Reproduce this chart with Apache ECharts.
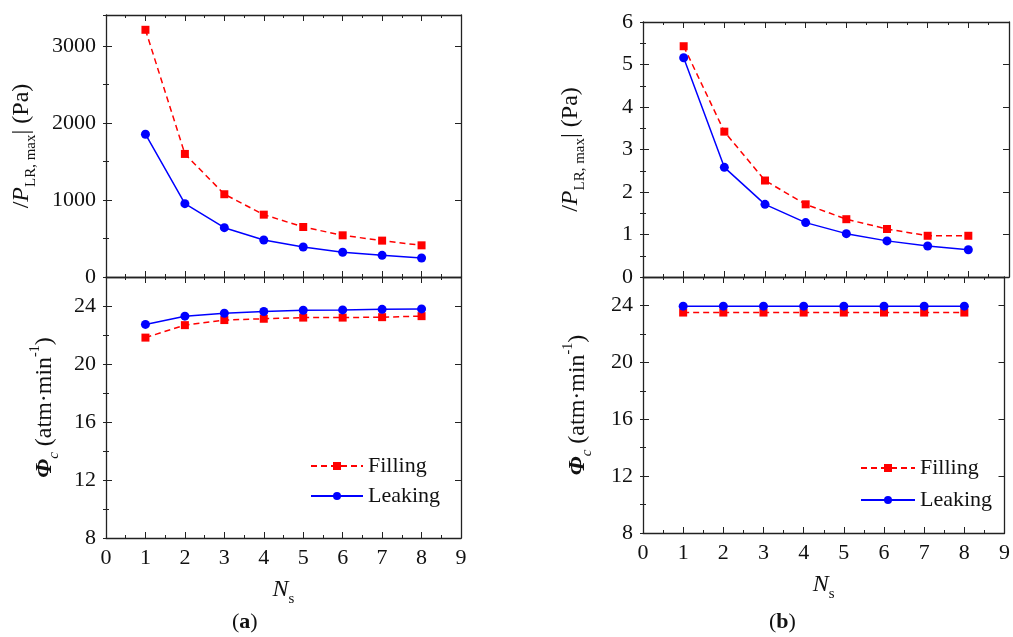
<!DOCTYPE html>
<html>
<head>
<meta charset="utf-8">
<script src="https://cdn.jsdelivr.net/npm/echarts@6/dist/echarts.min.js"></script>
<style>
  html, body { margin: 0; padding: 0; background: #fff; }
  #chart { width: 1013px; height: 637px; }
</style>
</head>
<body>
<div id="chart"></div>
<script>
// N_s values (shared by every panel)
var ns = [1, 2, 3, 4, 5, 6, 7, 8];

// (a) |P_LR,max| in Pa
var pFillA = [3208, 1597, 1074, 809, 649, 541, 472, 411];
var pLeakA = [1853, 952, 640, 480, 390, 321, 281, 247];
// (a) Phi_c in atm/min
var phiFillA = [21.82, 22.68, 23.03, 23.12, 23.2, 23.2, 23.23, 23.3];
var phiLeakA = [22.73, 23.3, 23.5, 23.62, 23.71, 23.73, 23.77, 23.8];

// (b) |P_LR,max| in Pa
var pFillB = [5.43, 3.42, 2.27, 1.71, 1.36, 1.13, 0.97, 0.97];
var pLeakB = [5.16, 2.58, 1.71, 1.28, 1.02, 0.85, 0.73, 0.64];
// (b) Phi_c in atm/min
var phiFillB = [23.5, 23.5, 23.5, 23.5, 23.5, 23.5, 23.5, 23.5];
var phiLeakB = [23.95, 23.95, 23.95, 23.95, 23.95, 23.95, 23.95, 23.95];

var legendNames = ['Filling', 'Leaking'];

var SERIF = '"Liberation Serif", "DejaVu Serif", serif';
var AX = '#222';

var nameRich = {
  n: { fontFamily: SERIF, fontSize: 24, color: '#111', lineHeight: 34, verticalAlign: 'middle' },
  i: { fontFamily: SERIF, fontSize: 24, fontStyle: 'italic', color: '#111', lineHeight: 34, verticalAlign: 'middle' },
  ib: { fontFamily: SERIF, fontSize: 24, fontStyle: 'italic', fontWeight: 'bold', color: '#111', lineHeight: 34, verticalAlign: 'middle' },
  s: { fontFamily: SERIF, fontSize: 15, color: '#111', verticalAlign: 'bottom' },
  si: { fontFamily: SERIF, fontSize: 15, fontStyle: 'italic', color: '#111', verticalAlign: 'bottom' },
  u: { fontFamily: SERIF, fontSize: 14, color: '#111', verticalAlign: 'top' }
};

var pName = '{n|/}{i|P}{s|LR, max}{n|| (Pa)}';
var phiName = '{ib|Φ}{si|c}{n| (atm·min}{u|-1}{n|)}';
var nsName = '{i|N}{s|s}';

// tick labels: plain numbers in serif, no thousands separator
var tickLabel = {
  formatter: function (v) { return '{t|' + v + '}'; },
  rich: { t: { fontFamily: SERIF, fontSize: 22, color: '#111' } }
};

function pairs(xs, ys) {
  return xs.map(function (x, i) { return [x, ys[i]]; });
}

function xAxes(g, withLabels) {
  var common = {
    gridIndex: g, type: 'value', min: 0, max: 9, interval: 1,
    splitLine: { show: false },
    axisLine: { show: true, onZero: false, lineStyle: { color: AX, width: 1.3 } },
    axisTick: { inside: true, length: 6, lineStyle: { color: AX, width: 1 } },
    minorTick: { show: true, splitNumber: 2, length: 3, lineStyle: { color: AX, width: 1 } }
  };
  var bottom = Object.assign({}, common, {
    position: 'bottom',
    axisLabel: Object.assign({ show: withLabels, margin: 9 }, tickLabel)
  });
  if (withLabels) {
    bottom.name = nsName;
    bottom.nameLocation = 'middle';
    bottom.nameGap = 35;
    bottom.nameTextStyle = { rich: nameRich };
  }
  var top = Object.assign({}, common, { position: 'top', axisLabel: { show: false } });
  return [bottom, top];
}

function yAxes(g, min, max, step, showMax, name, gap) {
  var common = {
    gridIndex: g, type: 'value', min: min, max: max,
    splitLine: { show: false },
    axisLine: { show: true, onZero: false, lineStyle: { color: AX, width: 1.3 } }
  };
  var major = { inside: true, length: 6, lineStyle: { color: AX, width: 1 } };
  var minor = { inside: true, length: 3, lineStyle: { color: AX, width: 1 } };
  return [
    Object.assign({}, common, {
      position: 'left', interval: step, axisTick: major,
      axisLabel: Object.assign({ margin: 10, showMaxLabel: showMax }, tickLabel),
      name: name, nameLocation: 'middle', nameRotate: 90, nameGap: gap,
      nameTextStyle: { rich: nameRich }
    }),
    Object.assign({}, common, {
      position: 'left', interval: step / 2, axisLine: { show: false },
      axisTick: minor, axisLabel: { show: false }
    }),
    Object.assign({}, common, {
      position: 'right', interval: step, axisTick: major, axisLabel: { show: false }
    }),
    Object.assign({}, common, {
      position: 'right', interval: step / 2, axisLine: { show: false },
      axisTick: minor, axisLabel: { show: false }
    })
  ];
}

function fillSeries(g, vals) {
  return {
    name: 'Filling', type: 'line', xAxisIndex: 2 * g, yAxisIndex: 4 * g,
    data: pairs(ns, vals), symbol: 'rect', symbolSize: 8,
    itemStyle: { color: '#ff0000' },
    lineStyle: { color: '#ff0000', width: 1.5, type: [6, 4] },
    animation: false, z: 3
  };
}
function leakSeries(g, vals) {
  return {
    name: 'Leaking', type: 'line', xAxisIndex: 2 * g, yAxisIndex: 4 * g,
    data: pairs(ns, vals), symbol: 'circle', symbolSize: 9,
    itemStyle: { color: '#0000ff' },
    lineStyle: { color: '#0000ff', width: 1.5 },
    animation: false, z: 4
  };
}

var legendText = { fontFamily: SERIF, fontSize: 22, color: '#111' };

var option = {
  backgroundColor: '#fff',
  animation: false,
  textStyle: { fontFamily: SERIF },
  grid: [
    { left: 106, top: 15, width: 355, height: 262 },
    { left: 106, top: 277, width: 355, height: 261 },
    { left: 643, top: 22, width: 366, height: 255 },
    { left: 643, top: 277, width: 366, height: 256 }
  ],
  xAxis: [].concat(
    xAxes(0, false), xAxes(1, true), xAxes(2, false), xAxes(3, true)
  ),
  yAxis: [].concat(
    yAxes(0, 0, 3400, 1000, false, pName, 67),
    yAxes(1, 8, 26, 4, false, phiName, 44),
    yAxes(2, 0, 6, 1, true, pName, 55),
    yAxes(3, 8, 26, 4, false, phiName, 48)
  ),
  legend: [
    { left: 305, top: 450, orient: 'vertical', data: legendNames, itemWidth: 52, itemHeight: 10, itemGap: 8, textStyle: legendText, selectedMode: false },
    { left: 855, top: 452, orient: 'vertical', data: legendNames, itemWidth: 54, itemHeight: 10, itemGap: 10, textStyle: legendText, selectedMode: false }
  ],
  graphic: [
    { type: 'text', left: 232, top: 611, style: { text: '({b|a})', fontFamily: SERIF, fontSize: 22, fill: '#111', rich: { b: { fontFamily: SERIF, fontSize: 22, fontWeight: 'bold', fill: '#111' } } } },
    { type: 'text', left: 769, top: 611, style: { text: '({b|b})', fontFamily: SERIF, fontSize: 22, fill: '#111', rich: { b: { fontFamily: SERIF, fontSize: 22, fontWeight: 'bold', fill: '#111' } } } }
  ],
  series: [
    fillSeries(0, pFillA), leakSeries(0, pLeakA),
    fillSeries(1, phiFillA), leakSeries(1, phiLeakA),
    fillSeries(2, pFillB), leakSeries(2, pLeakB),
    fillSeries(3, phiFillB), leakSeries(3, phiLeakB)
  ]
};

var chart = echarts.init(document.getElementById('chart'), null, { renderer: 'canvas' });
chart.setOption(option);
</script>
</body>
</html>
